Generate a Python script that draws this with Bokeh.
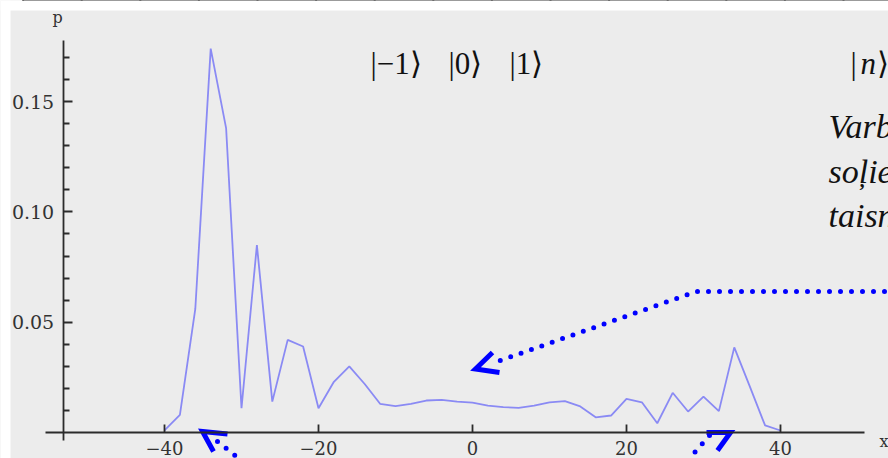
from bokeh.plotting import figure
from bokeh.models import (Range1d, LinearAxis, FixedTicker, BoxAnnotation, Label,
                          NumeralTickFormatter, CustomJSTickFormatter)
from bokeh.embed import file_html
from bokeh.resources import INLINE

# ---- data ----
steps = list(range(-40, 41, 2))
prob = [0.001, 0.008, 0.056, 0.174, 0.138, 0.011, 0.085, 0.014, 0.042, 0.039,
        0.011, 0.023, 0.030, 0.022, 0.013, 0.012, 0.013, 0.0145, 0.0148, 0.014,
        0.0135, 0.0122, 0.0115, 0.0112, 0.0122, 0.0137, 0.0142, 0.0118, 0.0069, 0.0077,
        0.0152, 0.0137, 0.0042, 0.018, 0.0095, 0.0163, 0.0097, 0.0386, 0.021, 0.0032,
        0.0009]
x_ticks = [-40, -20, 0, 20, 40]
y_ticks = [0.05, 0.10, 0.15]
y_minor = [0.01, 0.02, 0.03, 0.04, 0.06, 0.07, 0.08, 0.09,
           0.11, 0.12, 0.13, 0.14, 0.16, 0.17]
kets = ["|\u22121\u27e9", "|0\u27e9", "|1\u27e9"]
note_lines = ["Varbūtība", "soļiem", "taisnē"]
x_name = "x"
y_name = "p"

# ---- canvas geometry ----
W, H = 888, 458
X0, X1 = -61.30, 54.03
Y0, Y1 = -0.011786, 0.19583


def dx(px):
    return X0 + px / W * (X1 - X0)


def dy(py):
    return Y1 - py / H * (Y1 - Y0)


p = figure(width=W, height=H, x_range=Range1d(X0, X1), y_range=Range1d(Y0, Y1),
           output_backend="svg", toolbar_location=None,
           x_axis_location=None, y_axis_location=None, min_border=0)
p.grid.visible = False
p.outline_line_color = None
p.background_fill_color = "#ECECEC"
p.border_fill_color = "white"

AX = "#2b2b2b"
LBL = "#333333"

xaxis = LinearAxis(fixed_location=0, bounds=(dx(45), dx(864)),
                   ticker=FixedTicker(ticks=x_ticks, minor_ticks=[]),
                   formatter=CustomJSTickFormatter(
                       code="return tick < 0 ? '\\u2212' + Math.abs(tick) : String(tick);"))
xaxis.axis_line_color = AX
xaxis.axis_line_width = 1.8
xaxis.major_tick_line_color = AX
xaxis.major_tick_line_width = 1.8
xaxis.major_tick_in = 8
xaxis.major_tick_out = 0
xaxis.minor_tick_in = 0
xaxis.minor_tick_out = 0
xaxis.major_label_standoff = 8
xaxis.major_label_text_font = "DejaVu Serif"
xaxis.major_label_text_font_size = "18px"
xaxis.major_label_text_color = LBL
p.add_layout(xaxis, "below")

yaxis = LinearAxis(fixed_location=dx(62.7), bounds=(dy(440), dy(39.5)),
                   ticker=FixedTicker(ticks=y_ticks, minor_ticks=y_minor),
                   formatter=NumeralTickFormatter(format="0.00"))
yaxis.axis_line_color = AX
yaxis.axis_line_width = 1.8
yaxis.major_tick_line_color = AX
yaxis.major_tick_line_width = 1.8
yaxis.minor_tick_line_color = AX
yaxis.minor_tick_line_width = 1.8
yaxis.major_tick_in = 9
yaxis.major_tick_out = 0
yaxis.minor_tick_in = 6
yaxis.minor_tick_out = 0
yaxis.major_label_standoff = 9
yaxis.major_label_text_font = "DejaVu Serif"
yaxis.major_label_text_font_size = "19px"
yaxis.major_label_text_color = LBL
p.add_layout(yaxis, "left")

# data line
p.line(steps, prob, line_color="#8A8AF4", line_width=1.8)

# axis names
p.add_layout(Label(x=dx(52), y=dy(17), text=y_name, text_font="DejaVu Serif",
                   text_font_size="16px", text_color=LBL, text_baseline="alphabetic"))
p.add_layout(Label(x=dx(879), y=dy(441), text=x_name, text_font="DejaVu Serif",
                   text_font_size="16px", text_color=LBL, text_baseline="alphabetic"))

# white margins and top rule
p.add_layout(BoxAnnotation(right=dx(10), fill_color="white", fill_alpha=1,
                           line_alpha=0, level="overlay"))
p.add_layout(BoxAnnotation(bottom=dy(10), fill_color="white", fill_alpha=1,
                           line_alpha=0, level="overlay"))
p.segment(x0=[dx(22)], y0=[dy(1.5)], x1=[dx(890)], y1=[dy(1.5)],
          line_color="black", line_width=3, level="overlay")
tick_px = [22.6 + 58.6 * k for k in range(15)]
p.segment(x0=[dx(t) for t in tick_px], y0=[dy(0)] * 15,
          x1=[dx(t) for t in tick_px], y1=[dy(7)] * 15,
          line_color="black", line_width=2, level="overlay")

# ket labels
KF = "Liberation Serif"
for txt, left in zip(kets, [370, 448, 509]):
    p.add_layout(Label(x=dx(left), y=dy(63), text=txt, text_font=KF,
                       text_font_size="31px", text_color="#111111",
                       text_baseline="alphabetic"))
p.add_layout(Label(x=dx(850), y=dy(63), text="|", text_font=KF,
                   text_font_size="31px", text_color="#111111", text_baseline="alphabetic"))
p.add_layout(Label(x=dx(860), y=dy(63), text="n", text_font=KF, text_font_style="italic",
                   text_font_size="31px", text_color="#111111", text_baseline="alphabetic"))
p.add_layout(Label(x=dx(876), y=dy(63), text="\u27e9", text_font=KF,
                   text_font_size="31px", text_color="#111111", text_baseline="alphabetic"))

for txt, base in zip(note_lines, [126, 171, 215]):
    p.add_layout(Label(x=dx(828), y=dy(base), text=txt, text_font=KF,
                       text_font_style="italic", text_font_size="34px",
                       text_color="#111111", text_baseline="alphabetic"))

# dotted arrows
BLUE = "#0000FF"
p.line([dx(895), dx(696), dx(497)], [dy(291), dy(291), dy(361)],
       line_color=BLUE, line_width=5, line_dash="0 11", line_cap="round")
p.line([dx(492), dx(475), dx(499)], [dy(352), dy(368.5), dy(372)],
       line_color=BLUE, line_width=5, line_join="miter")

p.line([dx(217), dx(246)], [dy(441), dy(464)],
       line_color=BLUE, line_width=5, line_dash="0 11", line_cap="round")
p.line([dx(227), dx(202), dx(213)], [dy(433.5), dy(431), dy(451)],
       line_color=BLUE, line_width=5, line_join="miter")

p.line([dx(709), dx(682)], [dy(435), dy(466)],
       line_color=BLUE, line_width=5, line_dash="0 11", line_cap="round")
p.line([dx(706), dx(730), dx(717)], [dy(432), dy(432), dy(450)],
       line_color=BLUE, line_width=5, line_join="miter")

open("out.html", "w").write(file_html(p, INLINE))
